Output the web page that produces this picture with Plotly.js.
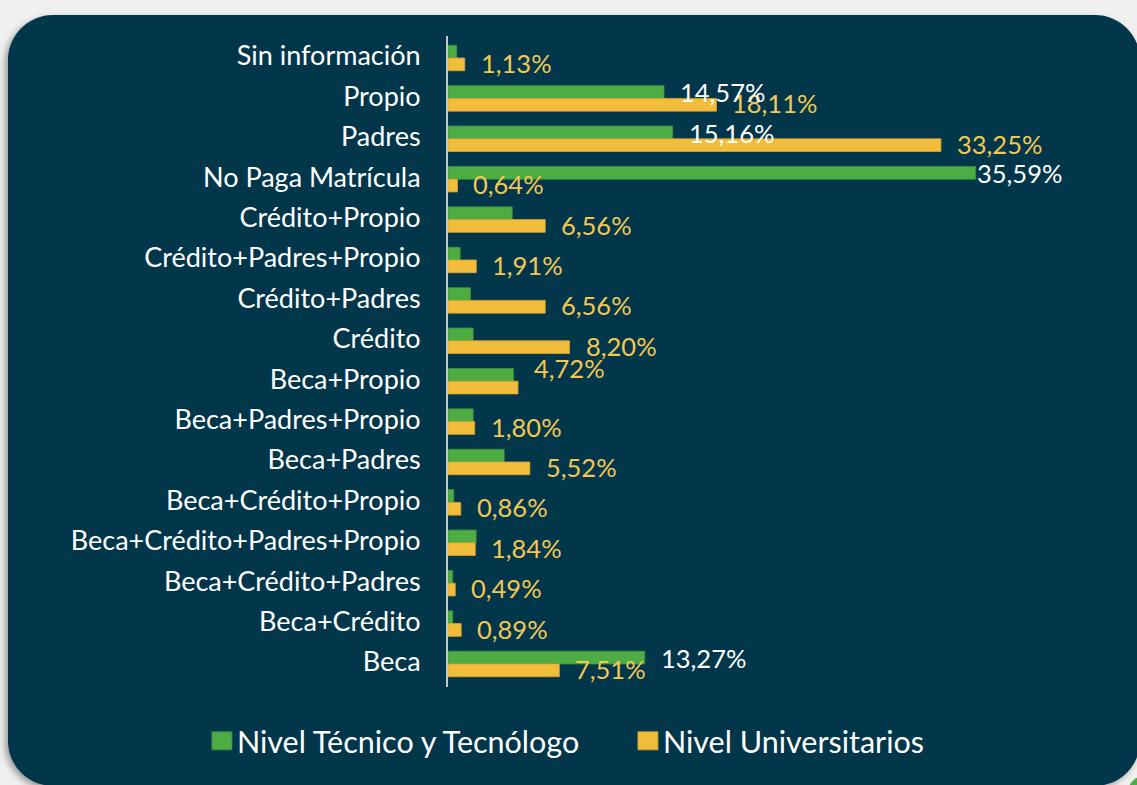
<!DOCTYPE html>
<html>
<head>
<meta charset="utf-8">
<script src="https://cdn.plot.ly/plotly-3.0.1.min.js"></script>
<style>
  html, body { margin: 0; padding: 0; width: 1137px; height: 785px; overflow: hidden; background: #f0f0f0; }
  #blob { position: absolute; left: 1127px; top: 775px; width: 40px; height: 40px; border-radius: 50%; background: #4dac44; }
  #card { position: absolute; left: 8px; top: 15px; width: 1132px; height: 771px; border-radius: 45px;
          background: #02364a; box-shadow: -3px 3px 6px rgba(0,0,0,0.35); }
  #chart { position: absolute; left: 0; top: 0; width: 1137px; height: 785px; }
</style>
</head>
<body>
<div id="blob"></div>
<div id="card"></div>
<div id="chart"></div>
<script>
// ---- Data ----
const categories = ['Sin información','Propio','Padres','No Paga Matrícula','Crédito+Propio',
  'Crédito+Padres+Propio','Crédito+Padres','Crédito','Beca+Propio','Beca+Padres+Propio',
  'Beca+Padres','Beca+Crédito+Propio','Beca+Crédito+Padres+Propio','Beca+Crédito+Padres',
  'Beca+Crédito','Beca'];
const tecnico = [0.59,14.57,15.16,35.59,4.33,0.82,1.52,1.70,4.42,1.70,3.79,0.39,1.90,0.32,0.32,13.27];
const universitario = [1.13,18.11,33.25,0.64,6.56,1.91,6.56,8.20,4.72,1.80,5.52,0.86,1.84,0.49,0.89,7.51];
const tecnicoLabeled = ['Propio','Padres','No Paga Matrícula','Beca'];
const seriesNames = ['Nivel Técnico y Tecnólogo','Nivel Universitarios'];

// ---- Styles ----
const GREEN = '#4dac44', YELLOW = '#f1bd3b', LABEL_YELLOW = '#f3c853', WHITE = '#ffffff';
const FONT = 'Lato, "Open Sans", sans-serif';
const fmt = v => v.toFixed(2).replace('.', ',') + '%';

// label placement tweaks (pixel shifts)
const labelShift = {
  uni: { default: {dx: 14, dy: -5}, 'Beca+Propio': {dx: 14, dy: 13} },
  tec: { default: {dx: 14, dy: 6}, 'No Paga Matrícula': {dx: -1, dy: 6} }
};

const traces = [
  { type: 'bar', orientation: 'h', name: seriesNames[0], y: categories, x: tecnico,
    marker: { color: GREEN, line: { color: '#3f9338', width: 0.8 } }, legendrank: 1, hoverinfo: 'x+y' },
  { type: 'bar', orientation: 'h', name: seriesNames[1], y: categories, x: universitario,
    marker: { color: YELLOW, line: { color: '#d6a632', width: 0.8 } }, legendrank: 2, hoverinfo: 'x+y' }
];

const annotations = [];
categories.forEach((c, i) => {
  const s = labelShift.uni[c] || labelShift.uni.default;
  annotations.push({ x: universitario[i], y: c, xref: 'x', yref: 'y', text: fmt(universitario[i]),
    showarrow: false, xanchor: 'left', yanchor: 'middle', xshift: s.dx, yshift: s.dy,
    font: { family: FONT, size: 25.5, color: LABEL_YELLOW } });
  if (tecnicoLabeled.includes(c)) {
    const t = labelShift.tec[c] || labelShift.tec.default;
    annotations.push({ x: tecnico[i], y: c, xref: 'x', yref: 'y', text: fmt(tecnico[i]),
      showarrow: false, xanchor: 'left', yanchor: 'middle', xshift: t.dx, yshift: t.dy,
      font: { family: FONT, size: 25.5, color: WHITE } });
  }
});

const layout = {
  width: 1137, height: 785,
  paper_bgcolor: 'rgba(0,0,0,0)', plot_bgcolor: 'rgba(0,0,0,0)',
  margin: { l: 448, r: 96, t: 36, b: 98 },
  barmode: 'group', bargap: 0.37, bargroupgap: 0,
  font: { family: FONT, color: WHITE },
  xaxis: { visible: false, range: [0, 40], fixedrange: true },
  yaxis: { autorange: 'reversed', showline: true, linecolor: '#c8c8c8', linewidth: 2,
    ticks: '', showgrid: false, zeroline: false, ticklabelstandoff: 20,
    tickfont: { family: FONT, size: 27, color: WHITE } },
  showlegend: true,
  legend: { orientation: 'h', x: -0.4234, xanchor: 'left', y: -0.083, yanchor: 'middle',
    font: { family: FONT, size: 30.5, color: WHITE }, bgcolor: 'rgba(0,0,0,0)',
    entrywidth: 381, entrywidthmode: 'pixels' },
  annotations: annotations
};

Plotly.newPlot('chart', traces, layout, { displayModeBar: false, staticPlot: true }).then(gd => {
  gd.querySelectorAll('.legend .legendpoints path').forEach(p => {
    p.setAttribute('d', 'M15,9H-5V-9H15Z');
  });
  gd.querySelectorAll('.ytick text').forEach(t => {
    const tr = t.getAttribute('transform') || '';
    t.setAttribute('transform', 'translate(0,-2) ' + tr);
  });
});
</script>
</body>
</html>
